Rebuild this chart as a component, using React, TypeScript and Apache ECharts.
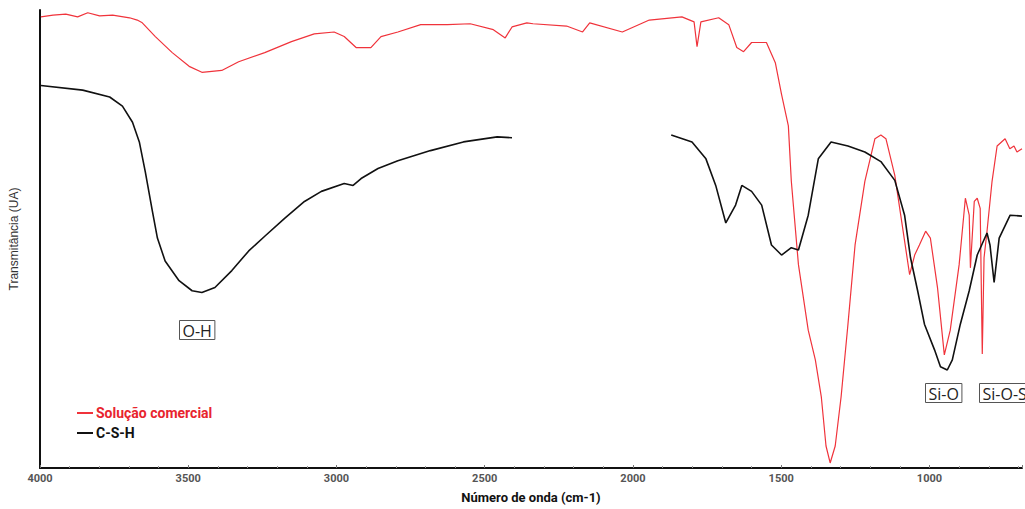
import React, { useEffect, useRef } from "react";
import * as echarts from "echarts";

// C-S-H spectrum (wavenumber cm-1, transmittance a.u.)
const cshWavenumbers = [3997, 3856, 3765, 3722, 3688, 3665, 3645, 3621, 3604, 3578, 3531, 3487, 3454, 3410, 3353, 3296, 3242, 3175, 3108, 3051, 2974, 2944, 2917, 2860, 2793, 2683, 2572, 2458, 2408, 2140, 1871, 1801, 1754, 1721, 1687, 1654, 1633, 1600, 1566, 1533, 1499, 1466, 1442, 1409, 1375, 1332, 1275, 1218, 1164, 1117, 1084, 1064, 1040, 1017, 983, 963, 940, 923, 896, 866, 839, 806, 796, 782, 765, 728, 688];
const cshValues = [83.5, 82.5, 81.0, 79.0, 75.5, 71.2, 64.7, 56.1, 50.2, 45.2, 40.9, 38.7, 38.3, 39.4, 43.1, 47.4, 50.6, 54.5, 58.2, 60.4, 62.1, 61.7, 63.2, 65.4, 67.1, 69.3, 71.2, 72.3, 72.1, null, 72.7, 71.2, 67.5, 61.7, 53.5, 57.4, 61.7, 60.4, 57.4, 48.7, 46.5, 48.1, 47.6, 55.2, 67.5, 71.2, 70.3, 69.0, 66.9, 62.8, 55.2, 45.9, 38.7, 31.4, 25.8, 22.1, 21.4, 23.6, 31.4, 38.7, 46.5, 51.3, 48.7, 40.5, 50.2, 55.2, 55.0];

// Commercial solution spectrum
const solWavenumbers = [3997, 3956, 3913, 3873, 3839, 3799, 3755, 3698, 3672, 3655, 3611, 3554, 3497, 3454, 3387, 3330, 3242, 3152, 3075, 3008, 2974, 2934, 2907, 2884, 2850, 2793, 2716, 2626, 2549, 2471, 2431, 2408, 2358, 2337, 2224, 2170, 2146, 2036, 1945, 1835, 1794, 1784, 1771, 1711, 1677, 1650, 1627, 1600, 1550, 1520, 1499, 1476, 1466, 1442, 1409, 1385, 1365, 1349, 1335, 1318, 1298, 1275, 1251, 1218, 1184, 1164, 1147, 1117, 1097, 1067, 1050, 1034, 1013, 997, 973, 950, 930, 900, 879, 866, 862, 849, 839, 829, 822, 816, 806, 789, 772, 745, 729, 715, 705, 688];
const solValues = [98.5, 98.9, 99.1, 98.5, 99.4, 98.7, 98.9, 98.3, 97.8, 97.2, 94.2, 90.7, 87.7, 86.4, 86.8, 88.7, 90.7, 93.1, 94.8, 95.2, 94.2, 91.8, 91.8, 91.8, 94.2, 95.2, 96.8, 96.8, 97.0, 95.7, 93.9, 96.3, 97.2, 97.0, 96.5, 95.2, 97.2, 95.2, 97.8, 98.5, 97.4, 92.0, 97.4, 98.3, 96.8, 91.8, 90.9, 92.9, 92.9, 88.5, 81.6, 74.7, 62.6, 44.4, 30.1, 23.6, 15.6, 4.8, 1.1, 4.8, 15.6, 31.4, 48.7, 62.6, 71.9, 72.7, 71.9, 63.9, 55.2, 42.2, 46.5, 48.7, 51.7, 50.2, 39.4, 24.7, 30.1, 44.4, 58.9, 55.2, 43.7, 58.2, 58.9, 56.7, 24.9, 45.9, 51.7, 62.6, 70.3, 71.9, 69.7, 70.3, 69.0, 69.7];

const xTickLabels = [4000, 3500, 3000, 2500, 2000, 1500, 1000];
const seriesNames = ["Solução comercial", "C-S-H"];
const bandLabels = ["O-H", "Si-O", "Si-O-S"];

export default function App() {
  const ref = useRef<HTMLDivElement>(null);
  useEffect(() => {
    if (!ref.current) return;
    const chart = echarts.init(ref.current, undefined, { renderer: "svg" });
    const csh = cshWavenumbers.map((w, i) => [w, cshValues[i] === null ? "-" : cshValues[i]]);
    const sol = solWavenumbers.map((w, i) => [w, solValues[i]]);
    const boxStyle = (text: string) => ({
      text,
      fill: "#222",
      font: "16px 'Open Sans', sans-serif",
      borderColor: "#555",
      borderWidth: 1,
      padding: [2, 3, 1, 3],
    });
    chart.setOption({
      animation: false,
      backgroundColor: "#fff",
      grid: { left: 37, right: 0, top: 10, bottom: 37, containLabel: false },
      legend: {
        orient: "vertical",
        left: 72,
        top: 401,
        itemWidth: 16,
        itemHeight: 2,
        itemGap: 6,
        icon: "rect",
        data: [
          { name: seriesNames[0], textStyle: { color: "#e8242e" } },
          { name: seriesNames[1], textStyle: { color: "#111" } },
        ],
        textStyle: { fontFamily: "Roboto, sans-serif", fontWeight: "bold", fontSize: 14, padding: [0, 0, 0, -2] },
      },
      xAxis: {
        type: "value",
        inverse: true,
        min: 688,
        max: 4000,
        splitNumber: 7,
        name: "Número de onda (cm-1)",
        nameLocation: "middle",
        nameGap: 23,
        nameTextStyle: { fontFamily: "Roboto, sans-serif", fontWeight: "bold", fontSize: 13, color: "#111" },
        axisLine: { lineStyle: { color: "#111", width: 2 } },
        axisTick: { inside: true, length: 3, lineStyle: { color: "#777" } },
        minorTick: { show: true, splitNumber: 5, length: 2, lineStyle: { color: "#999" } },
        splitLine: { show: false },
        axisLabel: {
          margin: 5,
          color: "#555",
          fontWeight: "bold",
          fontSize: 11,
          fontFamily: "Roboto, sans-serif",
          formatter: (v: number) => (xTickLabels.includes(v) ? String(v) : ""),
        },
      },
      yAxis: {
        type: "value",
        min: 0,
        max: 100,
        name: "Transmitância (UA)",
        nameLocation: "middle",
        nameGap: 20,
        nameTextStyle: { fontFamily: "'Liberation Sans Narrow', 'Liberation Sans', sans-serif", fontSize: 12, color: "#333" },
        axisLine: { show: true, lineStyle: { color: "#111", width: 2 } },
        axisTick: { show: false },
        axisLabel: { show: false },
        splitLine: { show: false },
      },
      series: [
        {
          name: seriesNames[0],
          type: "line",
          data: sol,
          showSymbol: false,
          lineStyle: { color: "#f0333b", width: 1.2 },
          itemStyle: { color: "#f0333b" },
        },
        {
          name: seriesNames[1],
          type: "line",
          data: csh,
          showSymbol: false,
          connectNulls: false,
          lineStyle: { color: "#111", width: 1.6 },
          itemStyle: { color: "#111" },
        },
      ],
      graphic: [
        { type: "text", left: 179, top: 320, style: boxStyle(bandLabels[0]) },
        { type: "text", left: 925, top: 383, style: boxStyle(bandLabels[1]) },
        { type: "text", left: 979, top: 383, style: boxStyle(bandLabels[2]) },
      ],
    });
    return () => chart.dispose();
  }, []);
  return (
    <div
      ref={ref}
      style={{ position: "fixed", left: 0, top: 0, width: 1025, height: 509 }}
    />
  );
}
